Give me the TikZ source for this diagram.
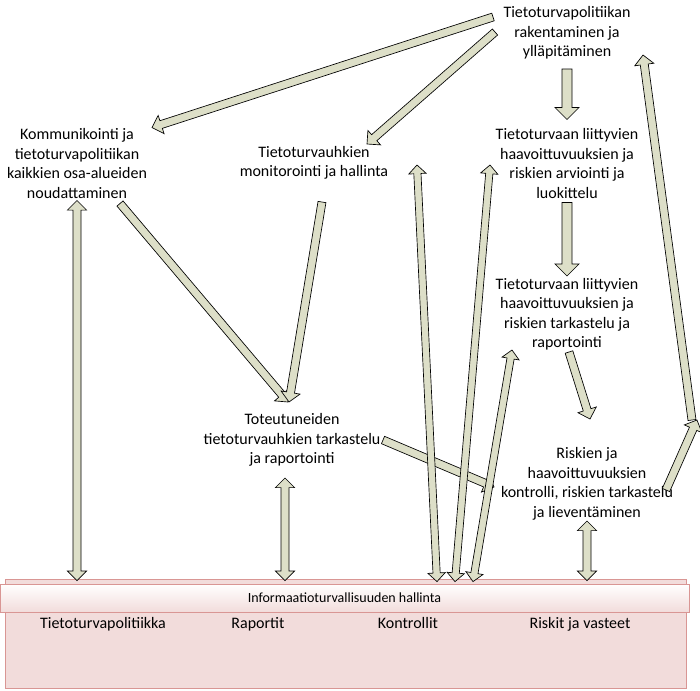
\documentclass[tikz,border=0pt]{standalone}
\usepackage{fontspec}
\setmainfont{Carlito}
\usepackage{xcolor}
\usepackage{tikz}
\usetikzlibrary{calc}
\usetikzlibrary{positioning}
\definecolor{arrfill}{HTML}{DDDFC8}
\definecolor{boxpink}{HTML}{F2DCDB}
\definecolor{boxline}{HTML}{D99694}
\tikzset{
    txtnode/.style = {align=center, inner sep=0pt, font=\fontsize{12pt}{14.6pt}\selectfont},
    lblnode/.style = {anchor=base, inner sep=0pt, font=\fontsize{12pt}{14.6pt}\selectfont},
    blkarr/.style = {draw=black, fill=arrfill, line width=0.5pt, line join=miter},
    ihbox/.style = {rectangle, draw=boxline, fill=boxpink, line width=0.6pt, inner sep=0pt},
    ihhead/.style = {rectangle, draw=boxline, top color=white, bottom color=boxpink, line width=0.6pt, inner sep=0pt, font=\fontsize{10.5pt}{12pt}\selectfont},
}
% block arrow, #1 = half shaft width, #2 = tail, #3 = tip
\newcommand{\blkarrow}[3][3pt]{%
  \coordinate (ba0) at (#2);
  \coordinate (ba1) at (#3);
  \coordinate (bh1) at ($(ba1)!{2.4*#1}!(ba0)$);
  \draw[blkarr] ($(ba0)!#1!90:(ba1)$) -- ($(bh1)!#1!90:(ba1)$) -- ($(bh1)!{2.4*#1}!90:(ba1)$)
    -- (ba1) -- ($(bh1)!{2.4*#1}!-90:(ba1)$) -- ($(bh1)!#1!-90:(ba1)$) -- ($(ba0)!#1!-90:(ba1)$) -- cycle;
}
% same, head at both ends
\newcommand{\dblarrow}[3][3pt]{%
  \coordinate (ba0) at (#2);
  \coordinate (ba1) at (#3);
  \coordinate (bh0) at ($(ba0)!{2.4*#1}!(ba1)$);
  \coordinate (bh1) at ($(ba1)!{2.4*#1}!(ba0)$);
  \draw[blkarr] (ba0) -- ($(bh0)!{2.4*#1}!90:(ba1)$) -- ($(bh0)!#1!90:(ba1)$) -- ($(bh1)!#1!90:(ba1)$)
    -- ($(bh1)!{2.4*#1}!90:(ba1)$) -- (ba1) -- ($(bh1)!{2.4*#1}!-90:(ba1)$) -- ($(bh1)!#1!-90:(ba1)$)
    -- ($(bh0)!#1!-90:(ba1)$) -- ($(bh0)!{2.4*#1}!-90:(ba1)$) -- cycle;
}

\begin{document}
\begin{tikzpicture}[x=0.75pt, y=-0.75pt]
\useasboundingbox (0,0) rectangle (700,690);
%
\node[ihbox, minimum width=510.75pt, minimum height=81.75pt] (ihbox) at (345.5,633.5) {};
\node[ihhead, minimum width=516.75pt, minimum height=21pt] (hal) at (344.5,598) {Informaatioturvallisuuden hallinta};
\node[lblnode] (tpk) at (103,628) {Tietoturvapolitiikka};
\node[lblnode] (rap) at (258,628) {Raportit};
\node[lblnode] (ktr) at (408,628) {Kontrollit};
\node[lblnode] (ris) at (580,628) {Riskit ja vasteet};
%
\node[txtnode] (pol) at (567,33) {Tietoturvapolitiikan\\rakentaminen ja\\ylläpitäminen};
\node[txtnode] (kom) at (77,163.5) {Kommunikointi ja\\tietoturvapolitiikan\\kaikkien osa-alueiden\\noudattaminen};
\node[txtnode] (mon) at (314,163) {Tietoturvauhkien\\monitorointi ja hallinta};
\node[txtnode] (arv) at (567,163.5) {Tietoturvaan liittyvien\\haavoittuvuuksien ja\\riskien arviointi ja\\luokittelu};
\node[txtnode] (tar) at (567,314) {Tietoturvaan liittyvien\\haavoittuvuuksien ja\\riskien tarkastelu ja\\raportointi};
\node[txtnode] (tot) at (292,440) {Toteutuneiden\\tietoturvauhkien tarkastelu\\ja raportointi};
\node[txtnode] (kon) at (587,484) {Riskien ja\\haavoittuvuuksien\\kontrolli, riskien tarkastelu\\ja lieventäminen};
\coordinate (rc) at (694,420);
%
\blkarrow{$(pol)+(-74,-16)$}{$(kom)+(75,-36)$}
\blkarrow{$(pol)+(-72,-1)$}{$(mon)+(53,-19)$}
\blkarrow[3.75pt]{$(pol)+(0,36)$}{$(arv)+(0,-44)$}
\blkarrow[3.75pt]{$(arv)+(0,39)$}{$(tar)+(0,-38)$}
\blkarrow{$(tar)+(2,38)$}{$(kon)+(3,-65)$}
\blkarrow{$(kon)+(79,6)$}{$(rc)+(3,0)$}
\blkarrow{$(rc)+(-2,0)$}{$(pol)+(76,22)$}
%
\blkarrow{$(kom)+(43,40)$}{$(tot)+(-4,-38)$}
\blkarrow{$(mon)+(8,39)$}{$(tot)+(-3,-38)$}
\blkarrow{$(tot)+(91,0)$}{$(kon)+(-93,3)$}
%
\dblarrow{$(kom)+(0,37)$}{$(kom |- ihbox.north)+(0,2)$}
\dblarrow{$(tot)+(-7,38)$}{$(tot |- ihbox.north)+(-7,2)$}
\dblarrow{$(kon)+(0,37)$}{$(kon |- ihbox.north)+(0,2)$}
\dblarrow[2.7pt]{$(mon)+(103,2)$}{$(ktr |- ihbox.north)+(29,3)$}
\dblarrow[2.7pt]{$(arv)+(-77,1.5)$}{$(ktr |- ihbox.north)+(47,3)$}
\dblarrow[2.7pt]{$(tar)+(-55,36)$}{$(ktr |- ihbox.north)+(65,3)$}
\end{tikzpicture}
\end{document}
